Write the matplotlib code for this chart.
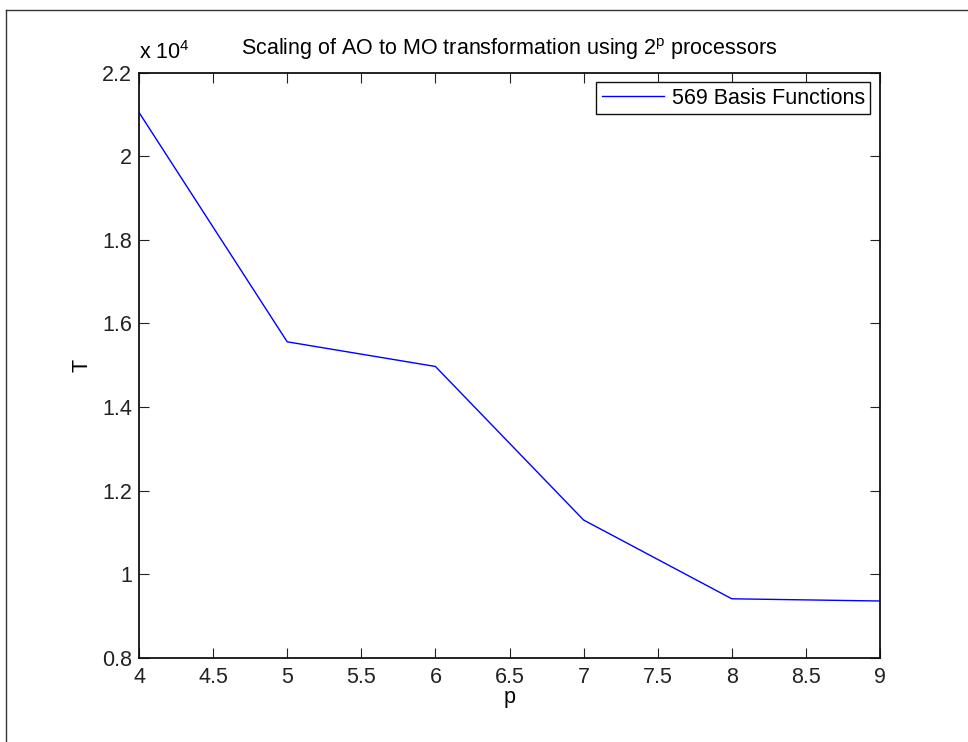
import matplotlib
matplotlib.use("Agg")
import matplotlib.pyplot as plt
from matplotlib.lines import Line2D
from matplotlib.ticker import FuncFormatter

plt.rcParams['font.family'] = ['Liberation Sans', 'DejaVu Sans']
plt.rcParams['mathtext.fontset'] = 'custom'
plt.rcParams['mathtext.rm'] = 'Liberation Sans'
plt.rcParams['mathtext.it'] = 'Liberation Sans'

# 处理器数量指数 p 与耗时 T
p = [4, 5, 6, 7, 8, 9]
T = [21050, 15560, 14970, 11295, 9410, 9357]
series_label = '569 Basis Functions'

fs = 15.5

fig = plt.figure(figsize=(9.68, 7.42), dpi=100)
ax = fig.add_axes([0.1436, 0.1136, 0.7655, 0.7884])

ax.plot(p, T, color='blue', linewidth=1.0, label=series_label)

ax.set_xlim(4, 9)
ax.set_ylim(8000, 22000)
ax.set_xticks([4, 4.5, 5, 5.5, 6, 6.5, 7, 7.5, 8, 8.5, 9])
ax.set_yticks([8000, 10000, 12000, 14000, 16000, 18000, 20000, 22000])
ax.xaxis.set_major_formatter(FuncFormatter(lambda v, pos: '%g' % v))
ax.yaxis.set_major_formatter(FuncFormatter(lambda v, pos: '%g' % (v / 1e4)))
ax.tick_params(direction='in', length=7, width=0.8, labelsize=fs,
               top=True, right=True, colors='#222222')
ax.tick_params(axis='x', pad=7)
ax.tick_params(axis='y', pad=5)
for s in ax.spines.values():
    s.set_linewidth(1.3)
    s.set_color('#111111')

ax.text(0.0, 1.015, r'x 10$^{4}$', transform=ax.transAxes, fontsize=fs,
        ha='left', va='bottom')
ax.set_title(r'Scaling of AO to MO transformation using 2$^{\mathrm{p}}$ processors',
             fontsize=fs, pad=13)
ax.set_xlabel('p', fontsize=fs, labelpad=-1)
ax.set_ylabel('T', fontsize=fs, labelpad=7)

leg = ax.legend(loc='upper right', fontsize=fs, fancybox=False, framealpha=1,
                edgecolor='#111111', borderaxespad=0.45, handlelength=2.9,
                borderpad=0.25, handletextpad=0.35)
leg.get_frame().set_linewidth(1.0)

# 外框线（左、上）
fig.add_artist(Line2D([0.0062, 0.0062], [0, 0.9865], transform=fig.transFigure,
                      color='#333333', linewidth=1.0))
fig.add_artist(Line2D([0.0062, 1.0], [0.9865, 0.9865], transform=fig.transFigure,
                      color='#333333', linewidth=1.0))

fig.savefig('out.png', dpi=100)
